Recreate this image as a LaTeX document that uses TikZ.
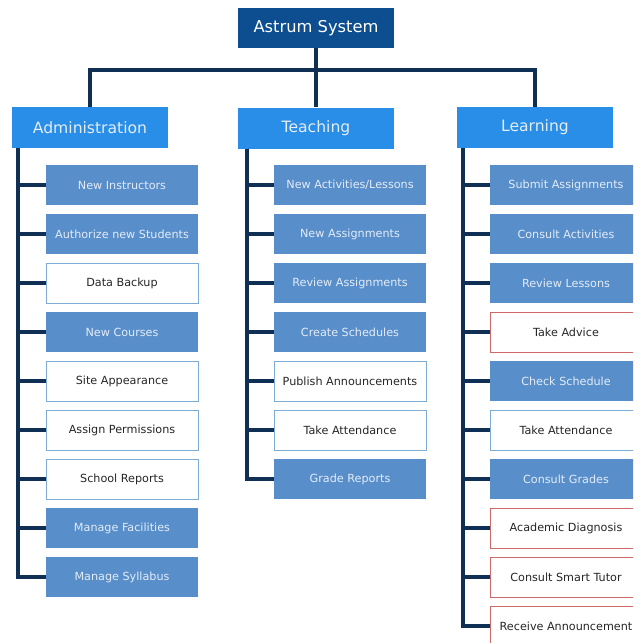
\documentclass[tikz,border=0pt]{standalone}
\usepackage{fontspec}
\setmainfont{DejaVu Sans}
\usetikzlibrary{positioning}
\usepackage{xcolor}
\definecolor{rootblue}{RGB}{12,78,144}
\definecolor{headblue}{RGB}{40,142,232}
\definecolor{taskblue}{RGB}{88,142,202}
\definecolor{linknavy}{RGB}{15,48,84}
\definecolor{edgeblue}{RGB}{125,172,212}
\definecolor{edgered}{RGB}{205,105,105}
\definecolor{paletext}{RGB}{228,236,246}
\tikzset{
  rootbox/.style={fill=rootblue,text=white,minimum width=156pt,minimum height=40pt,
    inner sep=0pt,font=\fontsize{16.3}{19}\selectfont},
  headbox/.style={fill=headblue,text=paletext,minimum width=156pt,minimum height=41pt,
    inner sep=0pt,font=\fontsize{15.6}{18}\selectfont},
  task/.style={minimum width=152pt,minimum height=40pt,inner sep=0pt,
    font=\fontsize{11.2}{13}\selectfont},
  taskfill/.style={task,fill=taskblue,text=paletext},
  taskopen/.style={task,fill=white,draw=edgeblue,text=black!85},
  taskflag/.style={task,fill=white,draw=edgered,text=black!85},
  link/.style={draw=linknavy,line width=3.8pt},
}

\begin{document}
\begin{tikzpicture}[x=1pt,y=1pt]
  \useasboundingbox (0,0) rectangle (633,-643);
  \clip (0,0) rectangle (633,-643);

  % top of the tree
  \node[rootbox] (root) at (316,-28) {Astrum System};
  \node[headbox] (adm) at (90,-127.5) {Administration};
  \node[headbox] (tch) at (316,-128) {Teaching};
  \node[headbox] (lrn) at (535,-127.5) {Learning};
  \draw[link] (root.south) -- ++(0,-22) coordinate (bar);
  \draw[link] (bar) -| (adm.north);
  \draw[link] (bar) -| (lrn.north);
  \draw[link] (bar) -- (tch.north);

  % administration
  \foreach \i/\kind/\txt in {1/taskfill/New Instructors,2/taskfill/Authorize new Students,
      3/taskopen/Data Backup,4/taskfill/New Courses,5/taskopen/Site Appearance,
      6/taskopen/Assign Permissions,7/taskopen/School Reports,
      8/taskfill/Manage Facilities,9/taskfill/Manage Syllabus}{
    \node[\kind] (a\i) at (122,-136-49*\i) {\txt};
    \draw[link] ([xshift=6]adm.south west) |- (a\i.west);
  }

  % teaching
  \foreach \i/\kind/\txt in {1/taskfill/{New Activities/Lessons},2/taskfill/New Assignments,
      3/taskfill/Review Assignments,4/taskfill/Create Schedules,
      5/taskopen/Publish Announcements,6/taskopen/Take Attendance,
      7/taskfill/Grade Reports}{
    \node[\kind] (t\i) at (350,-136-49*\i) {\txt};
    \draw[link] ([xshift=9]tch.south west) |- (t\i.west);
  }

  % learning
  \foreach \i/\kind/\txt in {1/taskfill/Submit Assignments,2/taskfill/Consult Activities,
      3/taskfill/Review Lessons,4/taskflag/Take Advice,5/taskfill/Check Schedule,
      6/taskopen/Take Attendance,7/taskfill/Consult Grades,
      8/taskflag/Academic Diagnosis,9/taskflag/Consult Smart Tutor,
      10/taskflag/Receive Announcement}{
    \node[\kind] (l\i) at (566,-136-49*\i) {\txt};
    \draw[link] ([xshift=6]lrn.south west) |- (l\i.west);
  }
\end{tikzpicture}
\end{document}
